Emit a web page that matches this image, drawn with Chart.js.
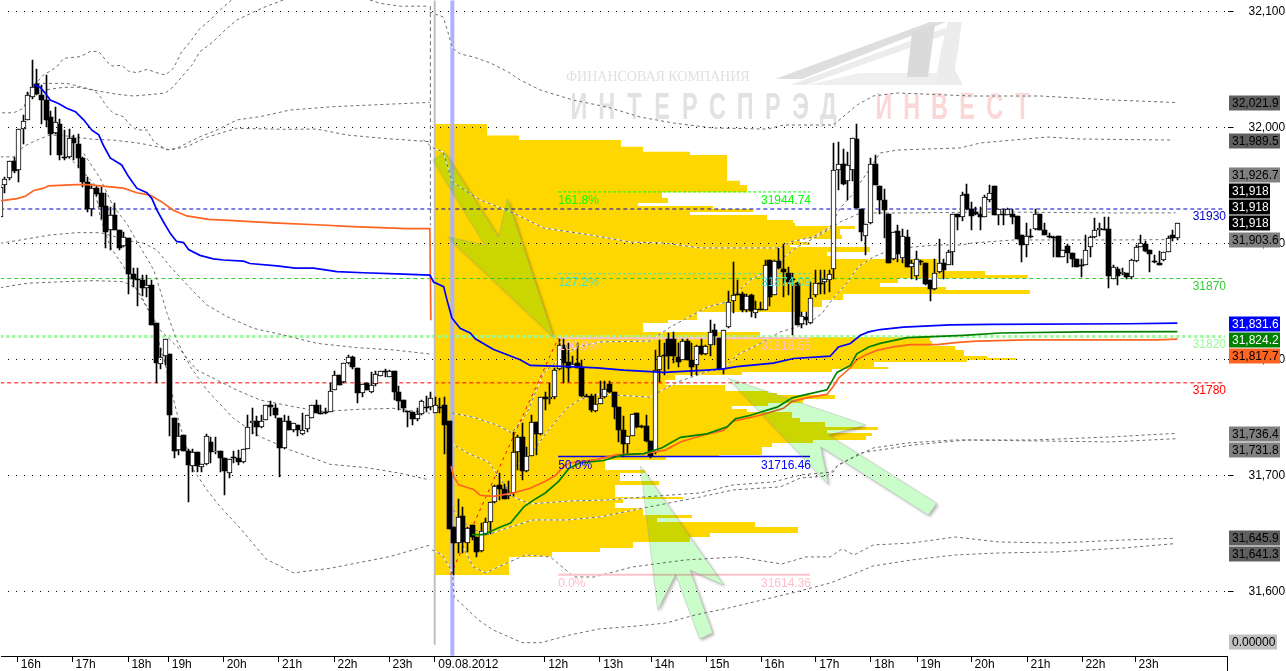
<!DOCTYPE html>
<html>
<head>
<meta charset="utf-8">
<style>
  html, body { margin: 0; padding: 0; background: #fff; overflow: hidden; }
  canvas { display: block; }
</style>
<script src="https://cdn.jsdelivr.net/npm/chart.js"></script>
</head>
<body>
<canvas id="chart" width="1286" height="671"></canvas>
<script>
// 5 minute candles, one entry per bar
const opens = [31923,31951,31957,31971,31964,31999,32007,32027,32038,32028,
  32024,32009,31996,32003,31975,31975,31991,31986,31974,31953,
  31930,31948,31944,31933,31912,31925,31912,31898,31905,31874,
  31870,31869,31862,31864,31832,31796,31803,31805,31750,31722,
  31735,31721,31708,31720,31707,31710,31729,31720,31721,31715,
  31702,31716,31715,31712,31723,31745,31747,31742,31748,31761,
  31758,31750,31724,31747,31739,31744,31736,31740,31750,31761,
  31754,31755,31755,31774,31787,31781,31797,31802,31793,31771,
  31780,31772,31779,31786,31790,31785,31790,31772,31765,31756,
  31755,31749,31753,31759,31759,31754,31759,31761,31747,31656,
  31642,31665,31642,31657,31647,31635,31650,31660,31677,31692,
  31688,31682,31685,31720,31733,31704,31717,31746,31736,31768,
  31766,31768,31792,31813,31798,31794,31797,31794,31769,31769,
  31756,31762,31768,31779,31772,31759,31739,31727,31734,31754,
  31743,31743,31730,31720,31791,31804,31818,31818,31802,31800,
  31816,31800,31795,31812,31805,31813,31826,31819,31792,31828,
  31851,31857,31857,31843,31856,31840,31844,31843,31886,31856,
  31885,31878,31875,31870,31866,31831,31837,31832,31856,31866,
  31867,31869,31878,31964,31969,31954,31964,31990,31930,31907,
  31918,31969,31950,31938,31926,31887,31911,31888,31906,31880,
  31872,31885,31883,31869,31861,31876,31883,31882,31893,31926,
  31923,31943,31930,31927,31926,31923,31938,31950,31925,31926,
  31925,31926,31924,31908,31899,31907,31913,31926,31912,31907,
  31906,31907,31889,31898,31892,31887,31882,31882,31897,31906,
  31912,31913,31913,31870,31878,31874,31875,31871,31885,31897,
  31900,31895,31885,31883,31886,31893,31908,31905];
const closes = [31949,31956,31971,31963,31999,32006,32028,32035,32029,32024,
  32007,31995,32005,31977,31974,31991,31987,31974,31953,31930,
  31948,31943,31932,31910,31925,31912,31896,31906,31874,31870,
  31869,31862,31864,31830,31797,31802,31818,31752,31721,31734,
  31721,31709,31720,31708,31710,31734,31720,31721,31715,31704,
  31714,31715,31712,31723,31742,31747,31742,31747,31761,31759,
  31752,31724,31747,31739,31745,31739,31739,31752,31761,31754,
  31753,31754,31773,31787,31778,31797,31802,31794,31771,31779,
  31774,31778,31788,31790,31789,31790,31772,31764,31758,31755,
  31749,31753,31764,31758,31767,31761,31758,31744,31654,31642,
  31664,31643,31655,31647,31634,31652,31660,31677,31691,31688,
  31680,31685,31720,31733,31704,31717,31746,31736,31768,31766,
  31768,31791,31813,31797,31793,31796,31793,31769,31768,31757,
  31762,31767,31775,31772,31759,31739,31727,31734,31753,31742,
  31742,31730,31717,31791,31803,31803,31803,31803,31798,31816,
  31800,31794,31812,31805,31812,31824,31820,31792,31826,31850,
  31856,31856,31843,31855,31842,31844,31843,31882,31854,31885,
  31879,31876,31867,31869,31830,31838,31834,31853,31866,31865,
  31870,31874,31964,31969,31952,31968,31991,31931,31910,31917,
  31969,31951,31938,31929,31883,31910,31891,31907,31880,31883,
  31887,31884,31865,31861,31875,31883,31877,31893,31926,31923,
  31942,31930,31924,31926,31923,31940,31944,31925,31930,31925,
  31930,31923,31904,31899,31907,31906,31926,31912,31908,31906,
  31905,31889,31895,31892,31887,31880,31881,31895,31906,31912,
  31914,31912,31872,31880,31872,31876,31871,31886,31897,31901,
  31894,31891,31884,31882,31893,31905,31905,31918];
const highs = [31951,31958,31971,31975,31999,32011,32031,32059,32051,32037,
  32046,32015,32018,32008,31998,31999,31994,31995,31975,31958,
  31952,31950,31949,31944,31932,31935,31912,31910,31905,31879,
  31879,31873,31873,31869,31832,31810,31818,31805,31750,31745,
  31735,31723,31723,31720,31710,31736,31733,31733,31721,31715,
  31714,31721,31722,31723,31752,31758,31751,31752,31761,31764,
  31762,31750,31752,31751,31745,31744,31754,31752,31761,31765,
  31761,31758,31780,31790,31787,31797,31804,31803,31793,31779,
  31780,31789,31790,31790,31792,31791,31790,31777,31765,31756,
  31755,31758,31765,31769,31772,31768,31767,31768,31747,31656,
  31680,31673,31656,31657,31647,31659,31663,31677,31692,31702,
  31693,31695,31738,31735,31745,31725,31752,31746,31768,31772,
  31780,31793,31818,31818,31814,31803,31814,31800,31770,31770,
  31770,31782,31782,31782,31772,31759,31751,31734,31753,31754,
  31744,31752,31730,31808,31817,31814,31823,31824,31814,31818,
  31818,31814,31813,31818,31813,31834,31831,31819,31826,31859,
  31884,31869,31858,31857,31857,31851,31850,31886,31886,31886,
  31896,31900,31880,31875,31867,31841,31841,31867,31877,31877,
  31877,31877,31987,31988,31982,31979,31991,32003,31930,31917,
  31974,31977,31950,31947,31926,31910,31916,31913,31912,31886,
  31894,31886,31883,31869,31887,31904,31887,31895,31926,31926,
  31945,31952,31936,31932,31932,31942,31951,31950,31930,31930,
  31931,31930,31924,31908,31918,31913,31930,31926,31918,31909,
  31907,31907,31895,31900,31892,31887,31887,31908,31907,31922,
  31918,31923,31923,31882,31880,31879,31875,31887,31899,31908,
  31902,31895,31890,31894,31893,31907,31912,31918];
const lows = [31923,31944,31955,31961,31953,31986,32007,32025,32028,32003,
  32001,31977,31995,31972,31972,31974,31972,31965,31949,31927,
  31924,31941,31921,31896,31895,31912,31895,31897,31857,31863,
  31846,31855,31854,31830,31780,31792,31795,31734,31715,31718,
  31721,31677,31703,31703,31703,31709,31711,31719,31703,31683,
  31698,31711,31709,31711,31723,31736,31734,31741,31748,31751,
  31750,31699,31723,31739,31738,31734,31735,31738,31750,31754,
  31753,31753,31755,31774,31778,31780,31796,31792,31763,31768,
  31774,31771,31777,31786,31785,31785,31765,31757,31755,31742,
  31744,31747,31752,31755,31757,31754,31754,31719,31654,31614,
  31633,31633,31634,31644,31630,31634,31649,31650,31676,31679,
  31680,31680,31682,31705,31696,31703,31717,31718,31735,31757,
  31762,31766,31791,31780,31781,31794,31793,31768,31768,31755,
  31755,31762,31767,31771,31749,31729,31716,31719,31734,31741,
  31741,31729,31715,31719,31781,31787,31792,31797,31794,31800,
  31800,31786,31787,31804,31804,31803,31813,31791,31788,31827,
  31840,31856,31841,31841,31837,31836,31843,31843,31846,31856,
  31878,31854,31856,31821,31830,31827,31830,31831,31854,31857,
  31857,31858,31870,31946,31951,31938,31954,31931,31902,31890,
  31917,31951,31926,31905,31883,31886,31884,31883,31880,31870,
  31869,31882,31864,31851,31860,31875,31870,31882,31882,31912,
  31920,31929,31912,31925,31912,31923,31936,31925,31916,31916,
  31925,31917,31904,31884,31889,31905,31912,31912,31908,31905,
  31889,31889,31889,31883,31880,31880,31871,31882,31889,31905,
  31907,31912,31862,31870,31864,31873,31870,31870,31884,31897,
  31893,31876,31883,31882,31885,31893,31902,31903];

// volume profile: price edges (top to bottom) and the volume of each level between them
const profilePrices = [32003.3,31993.4,31989.6,31983.8,31979.5,31976.6,31954.4,31950.7,31944.4,31939.5,
  31935.2,31932.6,31930,31927.4,31924.8,31920.5,31917.9,31915.4,31912.8,31907.6,
  31904.1,31901.6,31899,31897.2,31892.9,31889.5,31886.9,31883.4,31876.5,31873.1,
  31870.5,31866.2,31862.7,31860.1,31856.7,31851.5,31845.5,31841.2,31834.2,31831.7,
  31823.9,31819.6,31816.1,31811.8,31808.4,31803.2,31801.5,31799.7,31798,31793.7,
  31792,31789.4,31786.8,31782.5,31778.2,31773,31771.3,31769.5,31766.1,31762.6,
  31760,31757.5,31754.9,31749.7,31746.2,31741.9,31739.3,31736.8,31734.2,31730.7,
  31728.1,31724.7,31717.8,31716,31713.5,31704.8,31702.2,31695.3,31691.9,31681.5,
  31679.8,31676.4,31672,31666,31663.4,31660,31655.7,31650.5,31647,31642.7,
  31637.5,31634.1,31629.8,31614.2];
const profileVolumes = [53,85,187,209,256,293,306,313,228,
  234,204,279,319,256,333,359,361,421,406,
  408,366,376,356,436,393,401,503,509,551,
  594,464,446,512,596,409,388,379,263,234,
  209,326,496,498,521,530,553,582,533,440,
  454,398,308,241,231,291,334,343,401,369,
  334,298,313,358,366,391,444,393,438,432,
  379,338,328,285,232,171,211,186,225,181,
  249,189,181,209,258,223,321,364,276,256,
  199,166,118,75];

// moving averages (bar position, price)
const blueBars = [7.3,8.7,9.8,10.9,12.7,14.5,16.4,18.2,20,21.5,22.5,24,26.5,28,29.8,32,33.1,34.2,35.6,37.1,38.5,40,41.1,43.6,46.5,48.7,53.1,54.5,60.4,64.4,68.4,73.5,79.3,86.5,93.8,
  94.6,96.8,97.5,98.6,100.4,102.6,103.7,107.6,113.5,115.7,124.4,130.3,136.1,144.8,154.3,157.9,160.8,168.8,173.2,181.2,183,185.6,187.8,189.6,192.1,197.2,207.4,216.2,246.3,257];
const bluePrices = [32037,32035,32030,32024,32021,32017,32014,32007,31998,31994,31985,31974,31968,31958,31948,31944,31939,31929,31919,31909,31902,31901,31895,31890,31887,31886,31885,31883,31881,31879,31879,31876,31875,31874,31873,
  31867,31863,31852,31836,31827,31823,31818,31809,31800,31795,31794,31793,31791,31789,31791,31792,31794,31797,31801,31803,31811,31814,31821,31824,31826,31828,31830,31830.5,31831,31831.6];
const orangeBars1 = [0,3.6,5.5,7.3,9.5,10.5,16.7,18.9,21.8,26.9,29.8,32.7,34.9,37.8,40.7,45.5,50.9,59.6,71.3,75.6,88.7,93.8,94];
const orangePrices1 = [31937,31939,31941,31946,31948,31950,31951,31951,31950,31948,31944,31942,31937,31929,31924,31921,31920,31918,31916,31915,31913,31913,31834];
const orangeBars2 = [98.4,99,100.1,103.3,104.8,107.7,112.1,115.7,119,121.2,123,124.4,130.3,134.7,140.5,145.2,148.5,153.6,157.9,160.1,165.9,171,172.9,176.1,180.5,181.9,183,185.6,187,188.9,191.4,195,198.7,204.5,209.2,213.2,224.5,252.5,257];
const orangePrices2 = [31708,31699,31692,31688,31683,31682,31685,31689,31695,31700,31708,31711,31714,31718,31719,31722,31729,31735,31739,31747,31752,31758,31764,31767,31770,31777,31784,31793,31800,31804,31808,31811,31813,31813,31815,31816,31817,31817,31817.7];
const greenBars = [103,105.5,108.8,111.4,114.3,116.5,119,121.9,124.1,126.6,131.7,136.1,140.5,144.5,148.5,154.3,158.7,160.5,163.8,169.6,172.9,176.1,180.5,182.7,185.6,187,189.6,192.1,198,210.3,218.4,236.2,257];
const greenPrices = [31649,31649,31655,31659,31673,31679,31685,31695,31706,31711,31713,31718,31719,31724,31733,31736,31742,31749,31752,31759,31767,31770,31774,31789,31795,31805,31811,31814,31819,31821,31823,31824,31824.2];

// deviation bands of the first session
const bandA1Bars = [0.4,2.9,5.1,6.2,7.5,8.4,9.5,10.9,12.4,13.8,17.5,19.6,21.5,23.3,24.4,26.5,28,29.8,32,34.2,36,37.8,39.6,41.5,43.3,45.8,48,50.5];
const bandA1Prices = [32013,32013,32017,32030,32038,32041,32046,32049,32053,32060,32061.5,32066,32066,32057,32053.4,32054,32049,32047.6,32050.5,32047.6,32045.6,32051.4,32065.8,32074.4,32084.5,32093,32101.7,32110.4];
const bandA2Bars = [80.7,82.9,87.3,93.5];
const bandA2Prices = [32110.4,32107.5,32105,32105];
const bandBBars = [10.2,13.8,17.1,19.6,25.5,29.1,33.5,36,37.8,39.6,41.8,43.6,46.5,48.7,51.6,55.3,58.2,61.8];
const bandBPrices = [32033,32035,32035,32033,32029,32027.5,32029,32030,32035.6,32044,32054,32065.8,32074.4,32083,32093,32100,32105,32110.4];
const bandCBars = [8,10.2,14.5,17.5,20.4,21.8,23.3,24.7,26.9,28,29.8,32,33.5,36.4,38.5,43.6,47.3,51.6,56.7,63.3,72.7,93.8];
const bandCPrices = [32038.4,32038.4,32038.4,32035.6,32032.7,32027,32018.3,32012.6,32009.7,32004,31998.2,31998.2,31988.1,31981,31982.4,31992.4,31998.2,32006.8,32009.7,32015.4,32018.3,32022];
const bandDBars = [0,2.9,5.1,8,10.9,14.5,20.4,24.7,30.5,34.2,37.1,40.7,45.1,51.6,61.8,69.1,75.6,83.6,93.8];
const bandDPrices = [31975,31975,31984,31989.5,31993.9,31993,31990.1,31989.5,31986.7,31983.8,31981,31983.8,31991.9,31999.6,31998.8,31999,31993.9,31991,31988.1];
const bandEBars = [0,4.4,10.9,16.7,21.8,29.1,31.3,34.2,37.1,41.5,45.1,49.5,55.3,61.8,69.1,77.8,85.8,93.8];
const bandEPrices = [31900.4,31903.3,31907.6,31909.6,31909.6,31901.8,31900.4,31894.6,31880.3,31861.6,31847.2,31837.1,31827,31821.3,31814.1,31810.4,31808.4,31804.9];
const bandFBars = [0,5.8,13.8,20.4,26.9,29.8,32,34.9,39.3,42.9,47.3,51.6,56.7,64,69.8,78.5,85.8,93.8];
const bandFPrices = [31862.1,31865.9,31867.3,31868.2,31867.3,31861.6,31845.8,31825.6,31808.4,31791.1,31782.5,31773.8,31765.2,31759.5,31755.2,31757.2,31758,31753.7];
const bandGBars = [18.2,21.8,24.7,27.6,30.5,33.5,34.9,36.4,38.5,41.5,45.1,50.9,56.7,63.3,72,80,87.3,93.8];
const bandGPrices = [31978,31956.5,31932,31917.6,31897.5,31877.4,31860.1,31840,31817,31794,31773.8,31749.4,31733.6,31722.1,31709.7,31706.8,31702,31696.2];
const bandHBars = [13.8,16.7,20.4,21.8,24,26.9,29.8,32.7,35.6,37.5,39.3,42.2,45.1,48,52.4,58,64,72,85,93.8];
const bandHPrices = [31978,31968,31952.2,31923.4,31897.5,31880.3,31860.1,31840,31802.6,31771,31742.2,31704.8,31687.6,31673.2,31654.5,31628,31616,31620,31630,31640];

// deviation bands of the second session
const band2ABars = [93.7,96.7,97.8,98.7,100.4,103.3,107,110.9,113.5,117.9,125.1,132.5,139.7,146.9,155.7,167.5,171,181.9,187.1,190.6,195.9,212.4,227.1,242.4,256.6];
const band2APrices = [32100,32095.7,32081.9,32069,32063.8,32061.2,32056,32048.2,32041.3,32032.7,32024,32018,32009.4,32004.2,31999.9,31999,32002.5,32002.5,32019.8,32027.5,32030.1,32027.5,32027.5,32024.1,32021.9];
const band2BBars = [92.4,94.5,96.7,98.7,104.8,112,118.6,128.8,137.6,144.8,152.8,159.4,170.3,172.5,177.5,181.2,183.4,186,192.1,195.9,209.6,214,228.6,235.8,256.1];
const band2BPrices = [31989.6,31982.7,31979.2,31953.3,31937.8,31926.6,31913.6,31907.6,31901.5,31900.7,31896.4,31896.4,31896.4,31901.6,31905.9,31914.5,31931,31942.1,31978.3,31980.9,31982.7,31987,31992.1,31990.4,31989.5];
const band2CBars = [98.6,103.3,108.4,111.7,115,118.6,122.6,125.9,131,141.9,146.3,154.4,158.7,163.8,166.6,170.3,174,179,183.4,187.8,196.5,218.3,243,256.6];
const band2CPrices = [31754,31750.3,31743.7,31736.7,31754,31788.5,31802.3,31811,31815.3,31816.1,31828.2,31845.5,31849.8,31868.8,31874.8,31886,31897.2,31907.6,31918.8,31926.6,31926.6,31927.4,31926.6,31926.7];
const band2DBars = [111.4,115.7,119.4,123.7,126.6,131,137.6,141.9,144.8,148.1,154.7,157.9,160.9,166.7,170.3,174,177.5,179.5,181.9,184.9,187.3,190.6,194.3,199.3,204.6,209.6,212.4,221.2,228.6,243,255.5];
const band2DPrices = [31704.8,31717.8,31737.9,31758.1,31765.8,31770.4,31768.7,31767.6,31774.4,31781,31790.2,31792,31804,31815.5,31823.9,31828.2,31834.2,31840.3,31853.2,31866.2,31880,31888.6,31894.6,31897.2,31899,31899,31900.7,31903.3,31903.3,31903.3,31903.6];
const band2EBars = [98.3,102,106.6,112,115.7,124.5,132.5,140.4,152.8,160,168.8,174.7,181.9,182.8,190.6,198,208.1,225.5,242.4,256.6];
const band2EPrices = [31728.1,31719.5,31711.7,31681.5,31675.5,31678.1,31678.9,31681.5,31685,31691.9,31694.5,31700.5,31703.1,31709.1,31723.8,31728.1,31730.7,31730.7,31733.3,31736.4];
const band2FBars = [98.9,102.6,106.3,111.4,116.4,123.8,131,140.4,152.8,160,170.3,174.7,180.6,182.8,187.8,199.3,211.1,242.4,256.6];
const band2FPrices = [31670.3,31654.8,31648.8,31655.7,31661.7,31661.7,31664.3,31672,31681.5,31687.6,31690.2,31697.9,31699.7,31708.3,31719.5,31726.4,31730.7,31729,31731.8];
const band2GBars = [100.2,103.3,105.9,111.1,114.8,120.1,125.3,129.7,138,149.6,161.1,170.6,175.9,181.2,183.8,186.4,190.6,199,208.5,217.9,230.6,245.2,256.6];
const band2GPrices = [31644.4,31621.1,31616,31625.4,31631.5,31629.8,31612.5,31612.5,31621.1,31627.2,31629.8,31623.7,31629.8,31629.8,31636.7,31631.5,31640.1,31641.8,31647,31642.7,31641.8,31644.4,31645.9];
const band2HBars = [94.3,96.5,98.7,99.1,104.4,107.6,113.9,118.1,124.4,130.7,139.1,145.4,151.7,159.1,166.4,173.8,181.2,187.4,190.6,199,208.5,217.9,230.6,245.2,256.6];
const band2HPrices = [31635.8,31631.5,31616.8,31595.2,31575.4,31566.8,31555.8,31555.8,31562.5,31567.6,31570.2,31572.8,31579.7,31585.8,31592.7,31599.6,31607.3,31616.8,31622,31627.2,31631.5,31633.2,31634.1,31637.5,31641.3];

// price levels and fibonacci retracement
const levelPrices = [31930, 31870, 31820, 31780];
const levelLabels = ['31930', '31870', '31820', '31780'];
const levelColors = ['#0000c8', '#32cd32', '#98fb98', '#ff0000'];
const fibStartBar = 121.8, fibEndBar = 176.8;
const fibPrices = [31944.74, 31874.09, 31818.55, 31716.46, 31614.36];
const fibPercents = ['161.8%', '127.2%', '100.0%', '50.0%', '0.0%'];
const fibColors = ['#00ff00', '#40e0d0', '#ffc0cb', '#0000ff', '#ffc0cb'];
const fibDiagBars = [98.3, 121.8];
const fibDiagPrices = [31614.36, 31818.55];

// axis ticks
const yTicks = [31600, 31700, 31800, 31900, 32000, 32100];
const xTicks = [3.75,15.7,27.9,36.7,48.7,60.8,72.9,84.9,94.9,118.9,130.9,142.1,154.1,166.1,178.1,190.1,200.2,212,224.2,236.2,247.8];
const xLabels = ['16h','17h','18h','19h','20h','21h','22h','23h','09.08.2012','12h','13h','14h','15h','16h','17h','18h','19h','20h','21h','22h','23h'];

const FONT = '"Liberation Sans", Arial, sans-serif';

const pts = (xs, ys) => xs.map((x, i) => ({ x, y: ys[i] }));

const lineDs = (xs, ys, style) => ({
    type: 'line',
    data: pts(xs, ys),
    pointRadius: 0,
    borderWidth: 1,
    tension: 0,
    fill: false,
    xAxisID: 'x',
    yAxisID: 'y',
    ...style
});

// yellow histogram as one stepped outline on its own hidden volume axis
const profileOutline = () => {
    const outline = [{ x: 0, y: profilePrices[0] }];
    profileVolumes.forEach((v, i) => {
        outline.push({ x: v, y: profilePrices[i] });
        outline.push({ x: v, y: profilePrices[i + 1] });
    });
    outline.push({ x: 0, y: profilePrices[profilePrices.length - 1] });
    return outline;
};

const bodyDs = (up) => ({
    type: 'bar',
    data: opens.map((o, i) => ({ x: i, y: [o, closes[i]], up: closes[i] > o })).filter(d => d.up === up),
    barThickness: 5,
    backgroundColor: up ? '#fff' : '#000',
    borderColor: '#000',
    borderWidth: up ? 1 : 0,
    borderSkipped: false,
    grouped: false,
    xAxisID: 'x',
    yAxisID: 'y',
    order: 10
});

const datasets = [];

datasets.push({
    type: 'line',
    data: profileOutline(),
    xAxisID: 'xVol',
    yAxisID: 'y',
    pointRadius: 0,
    borderWidth: 0,
    tension: 0,
    fill: 'shape',
    backgroundColor: '#ffd700',
    order: 60
});

levelPrices.forEach((p, i) => {
    datasets.push(lineDs([0, 267.4], [p, p], {
        borderColor: levelColors[i],
        borderWidth: p === 31820 ? 3 : 1,
        borderDash: p === 31820 ? [3, 3] : [4, 3],
        order: 50
    }));
});

[[bandA1Bars, bandA1Prices], [bandA2Bars, bandA2Prices], [bandBBars, bandBPrices], [bandCBars, bandCPrices],
 [bandDBars, bandDPrices], [bandEBars, bandEPrices], [bandFBars, bandFPrices], [bandGBars, bandGPrices],
 [bandHBars, bandHPrices]].forEach(([xs, ys]) => {
    datasets.push(lineDs(xs, ys, { borderColor: '#6e6e6e', borderDash: [3, 3], order: 44 }));
});

// second session bands run over the histogram: white under the grey dashes
[[band2ABars, band2APrices], [band2BBars, band2BPrices], [band2CBars, band2CPrices], [band2DBars, band2DPrices],
 [band2EBars, band2EPrices], [band2FBars, band2FPrices], [band2GBars, band2GPrices], [band2HBars, band2HPrices]].forEach(([xs, ys]) => {
    datasets.push(lineDs(xs, ys, { borderColor: '#ffffff', order: 46 }));
    datasets.push(lineDs(xs, ys, { borderColor: '#6e6e6e', borderDash: [3, 3], order: 44 }));
});

// session separator lines
datasets.push(lineDs([94.85, 94.85], [32110, 31554], { borderColor: '#c0c0c0', borderWidth: 2, order: 48 }));
datasets.push(lineDs([93.9, 93.9], [32105, 31916], { borderColor: '#6e6e6e', borderDash: [4, 3], order: 44 }));
datasets.push(lineDs([98.7, 98.7], [32110, 31544.5], { borderColor: '#b0b0ff', borderWidth: 4, order: 47 }));

fibPrices.forEach((p, i) => {
    const thin = i < 2;
    datasets.push(lineDs([fibStartBar, fibEndBar], [p, p], {
        borderColor: fibColors[i],
        borderWidth: i === 3 ? 1.5 : thin ? 1 : 2,
        borderDash: thin ? [3, 2] : [],
        order: 40
    }));
});
datasets.push(lineDs(fibDiagBars, fibDiagPrices, { borderColor: '#ff0000', borderDash: [3, 4], order: 39 }));

datasets.push({
    type: 'bar',
    data: highs.map((h, i) => ({ x: i, y: [lows[i], h] })),
    barThickness: 1,
    backgroundColor: '#000',
    grouped: false,
    xAxisID: 'x',
    yAxisID: 'y',
    order: 20
});
datasets.push(bodyDs(true));
datasets.push(bodyDs(false));

datasets.push(lineDs(orangeBars1, orangePrices1, { borderColor: '#ff6420', borderWidth: 1.7, order: 5 }));
datasets.push(lineDs(orangeBars2, orangePrices2, { borderColor: '#ff6420', borderWidth: 1.7, order: 5 }));
datasets.push(lineDs(greenBars, greenPrices, { borderColor: '#008000', borderWidth: 1.7, order: 4 }));
datasets.push(lineDs(blueBars, bluePrices, { borderColor: '#0000ff', borderWidth: 1.7, order: 3 }));

// price tags on the right, stacked the way the terminal stacks them
const tagTexts = ['32,021.9','31,989.5','31,926.7','31,918','31,918','31,918','31,903.6','31,831.6','31,824.2','31,817.7','31,736.4','31,731.8','31,645.9','31,641.3','0.00000'];
const tagBacks = ['#606060','#606060','#808080','#000000','#000000','#000000','#808080','#0000ff','#008000','#ff6420','#808080','#808080','#606060','#606060','#c0c0c0'];
const tagInks = ['#000','#000','#000','#fff','#fff','#fff','#000','#fff','#fff','#000','#000','#000','#000','#000','#000'];
const tagCentres = [103,141,175,191,207,223,240,324,340,356,434,450,538,554,642];

const arrows = [
    [[553.3,336.7],[507.3,198.3],[498.3,236.7],[444,151.7],[432.7,160],[485,245],[447.3,236.7]],
    [[728.3,378.3],[865.7,425],[828.3,435],[936.7,503.3],[928.3,515],[820.7,446.7],[828.3,484.3]],
    [[640.4,466],[723.7,585],[690,570],[712.6,632.7],[699.6,639],[675.6,574.3],[657.7,610]]
];

const tracePoly = (ctx, points) => {
    points.forEach(([x, y], i) => i ? ctx.lineTo(x, y) : ctx.moveTo(x, y));
    ctx.closePath();
};

const poly = (ctx, points, color) => {
    ctx.beginPath();
    tracePoly(ctx, points);
    ctx.fillStyle = color;
    ctx.fill();
};

const drawWatermark = (ctx) => {
    ctx.save();
    poly(ctx, [[775,79],[930,22],[946,22],[802,79]], '#dedede');
    poly(ctx, [[790,85],[945,28],[948,34],[806,85]], '#ececec');
    poly(ctx, [[807,85],[963,85],[955,73],[860,73]], '#efefef');
    poly(ctx, [[912,32],[935,24],[928,77],[907,77]], '#dadada');
    poly(ctx, [[948,22],[962,22],[955,70],[963,85],[935,85],[941,50]], '#ececec');

    ctx.font = '14px "Liberation Serif", serif';
    ctx.fillStyle = '#e0e0e0';
    ctx.textAlign = 'left';
    ctx.textBaseline = 'middle';
    ctx.fillText('ФИНАНСОВАЯ КОМПАНИЯ', 566, 77);

    const tall = (text, startX, color) => {
        ctx.fillStyle = color;
        [...text].forEach((ch, i) => {
            ctx.save();
            ctx.translate(startX + i * 27.7, 109);
            ctx.scale(0.65, 1);
            ctx.font = 'bold 36px ' + FONT;
            ctx.textAlign = 'center';
            ctx.fillText(ch, 0, 0);
            ctx.restore();
        });
    };
    tall('ИНТЕРСПРЭД', 579, '#e2e2e2');
    tall('ИНВЕСТ', 884, '#fbd7d7');
    ctx.restore();
};

// the shadow is clipped to the outside of the arrow so it never darkens the tinted body
const drawArrows = (ctx) => {
    arrows.forEach(a => {
        ctx.save();
        ctx.beginPath();
        ctx.rect(0, 0, 1286, 671);
        tracePoly(ctx, a);
        ctx.clip('evenodd');
        ctx.shadowColor = 'rgba(0,0,0,0.28)';
        ctx.shadowBlur = 3;
        ctx.shadowOffsetX = 2;
        ctx.shadowOffsetY = 2;
        poly(ctx, a, '#fff');
        ctx.restore();

        ctx.save();
        ctx.globalCompositeOperation = 'multiply';
        poly(ctx, a, '#cbfdcb');
        ctx.globalCompositeOperation = 'source-over';
        ctx.strokeStyle = 'rgba(110,110,110,0.22)';
        ctx.stroke();
        ctx.restore();
    });
};

const drawLabels = (chart) => {
    const { ctx, scales } = chart;
    const xs = scales.x, ys = scales.y;
    ctx.save();
    ctx.font = '12px ' + FONT;
    ctx.textBaseline = 'top';

    fibPrices.forEach((p, i) => {
        const y = ys.getPixelForValue(p) + 3;
        ctx.fillStyle = fibColors[i];
        ctx.textAlign = 'left';
        ctx.fillText(fibPercents[i], xs.getPixelForValue(fibStartBar), y);
        ctx.textAlign = 'right';
        ctx.fillText(p.toFixed(2), xs.getPixelForValue(fibEndBar) + 1, y);
    });

    levelPrices.forEach((p, i) => {
        ctx.fillStyle = levelColors[i];
        ctx.textAlign = 'right';
        ctx.fillText(levelLabels[i], 1226, ys.getPixelForValue(p) + 2);
    });
    ctx.restore();
};

const drawTags = (chart) => {
    const { ctx, chartArea } = chart;
    ctx.save();
    ctx.strokeStyle = '#000';
    ctx.beginPath();
    ctx.moveTo(chartArea.right, chartArea.bottom);
    ctx.lineTo(chartArea.right, 671);
    ctx.stroke();

    ctx.clearRect(0, 0, 1, 671);

    ctx.font = '12px ' + FONT;
    ctx.textAlign = 'left';
    ctx.textBaseline = 'middle';
    tagTexts.forEach((t, i) => {
        const w = t === '31,918' ? 41 : t === '0.00000' ? 48 : 51;
        ctx.fillStyle = tagBacks[i];
        ctx.fillRect(1229, tagCentres[i] - 7.5, w, 15);
        ctx.fillStyle = tagInks[i];
        ctx.fillText(t, 1232, tagCentres[i] + 0.5);
    });
    ctx.restore();
};

// snap candle rectangles to whole pixels, the terminal draws them without smoothing
const snapBars = (chart) => {
    chart.getSortedVisibleDatasetMetas().forEach(meta => {
        if (meta.type !== 'bar') return;
        meta.data.forEach(el => {
            el.x = Math.floor(el.x) + 0.5;
            el.y = Math.round(el.y);
            el.base = Math.round(el.base);
            if (el.base === el.y) el.base = el.y + 1;
        });
    });
};

const overlay = {
    id: 'overlay',
    afterDatasetsUpdate(chart) { snapBars(chart); },
    beforeDatasetsDraw(chart) { drawWatermark(chart.ctx); },
    afterDatasetsDraw(chart) {
        drawArrows(chart.ctx);
        drawLabels(chart);
    },
    afterDraw(chart) { drawTags(chart); }
};

new Chart(document.getElementById('chart'), {
    data: { datasets },
    plugins: [overlay],
    options: {
        responsive: false,
        animation: false,
        devicePixelRatio: 1,
        events: [],
        layout: { padding: 0 },
        plugins: { legend: { display: false }, tooltip: { enabled: false } },
        scales: {
            x: {
                type: 'linear',
                min: -0.066,
                max: 267.95,
                offset: false,
                afterBuildTicks: (scale) => { scale.ticks = xTicks.map(value => ({ value })); },
                afterFit: (scale) => {
                    scale.height = 15;
                    scale.paddingLeft = 0;
                    scale.paddingRight = 0;
                },
                grid: { offset: false, drawOnChartArea: false, tickLength: 6, tickColor: '#000', tickBorderDash: [] },
                border: { color: '#000', width: 1 },
                ticks: {
                    autoSkip: false,
                    maxRotation: 0,
                    align: 'start',
                    padding: -5,
                    color: '#000',
                    font: { family: FONT, size: 12 },
                    callback: (value) => {
                        const i = xTicks.indexOf(value);
                        return i < 0 ? '' : ' ' + xLabels[i];
                    }
                }
            },
            xVol: { type: 'linear', display: false, min: -434, max: 793.5, offset: false },
            y: {
                type: 'linear',
                position: 'right',
                min: 31544.3,
                max: 32110.35,
                beginAtZero: false,
                afterBuildTicks: (scale) => { scale.ticks = yTicks.map(value => ({ value })); },
                afterFit: (scale) => {
                    scale.width = 58.5;
                    scale.paddingTop = 0;
                    scale.paddingBottom = 0;
                },
                grid: { z: 1, color: '#000', tickLength: 6, tickColor: '#000', tickBorderDash: [] },
                border: { color: '#000', width: 1, dash: [1, 7] },
                ticks: {
                    padding: 15,
                    color: '#000',
                    font: { family: FONT, size: 12 },
                    callback: (value) => value.toLocaleString('en-US')
                }
            }
        }
    }
});
</script>
</body>
</html>
